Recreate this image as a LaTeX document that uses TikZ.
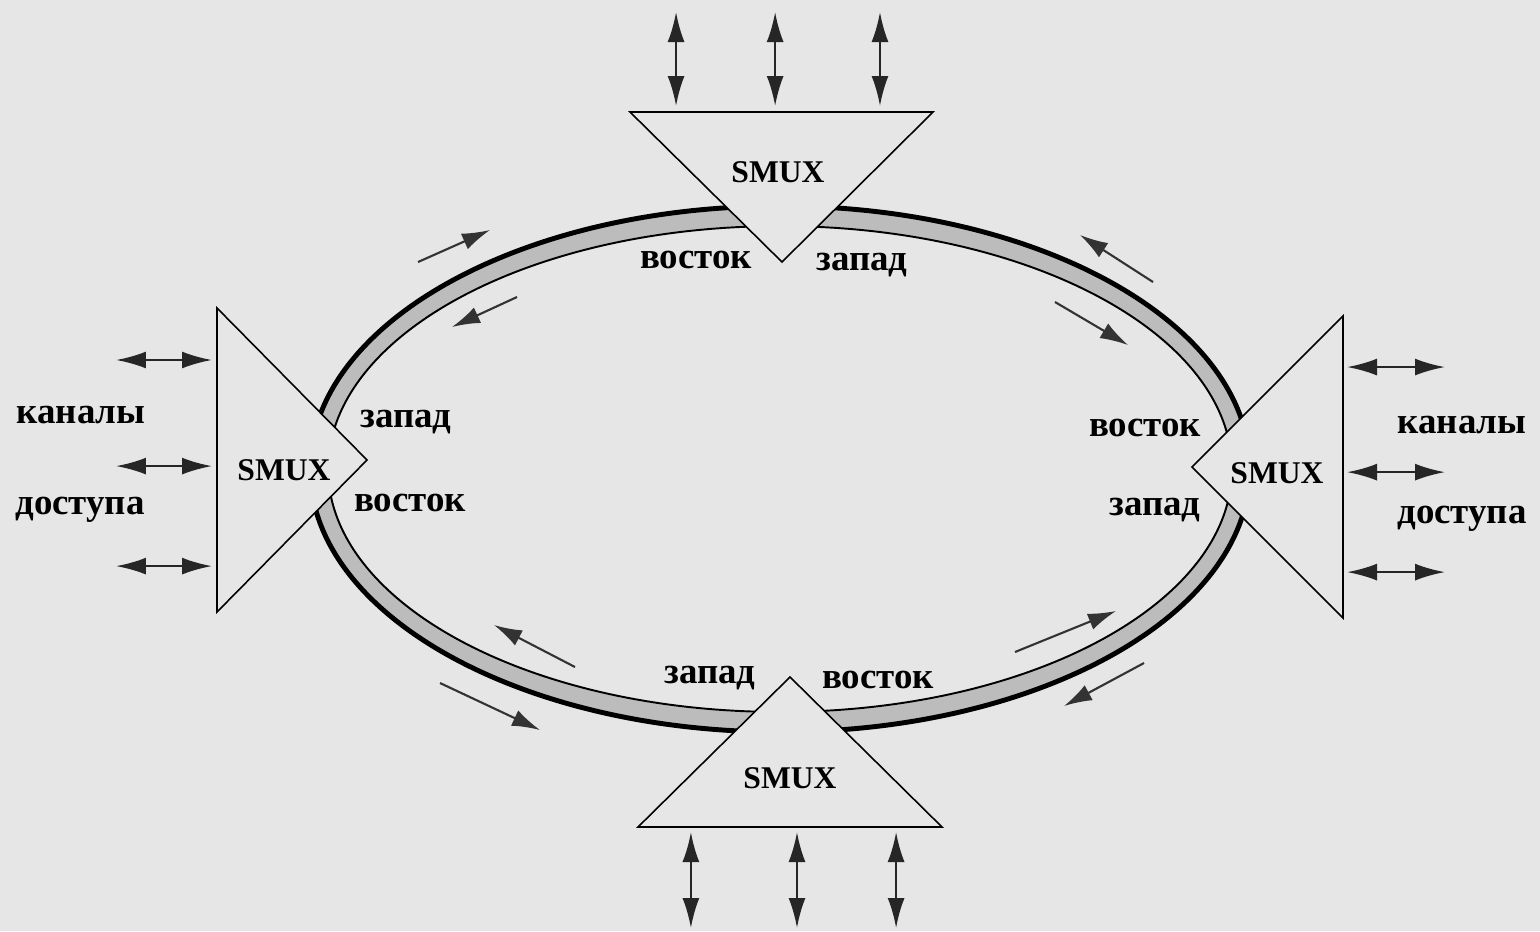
\documentclass[tikz,border=0pt]{standalone}
\usepackage{fontspec}
\setmainfont{Liberation Serif}
\usetikzlibrary{arrows.meta,calc}
\definecolor{paper}{RGB}{230,230,230}
\definecolor{band}{RGB}{188,188,188}
\begin{document}
\begin{tikzpicture}[x=0.02cm,y=-0.02cm,
    chan/.style={{Latex[length=0.6cm,width=0.34cm]}-{Latex[length=0.6cm,width=0.34cm]},line width=1.4pt,black!85},
    flow/.style={-{Latex[length=0.56cm,width=0.34cm]},line width=1.2pt,black!80},
    mux/.style={draw,line width=0.9pt,fill=paper},
    muxtext/.style={font=\fontsize{18}{20}\selectfont\bfseries},
    port/.style={font=\fontsize{21}{24}\selectfont\bfseries}]
    \fill[paper] (0,0) rectangle (1540,931);
    \useasboundingbox (0,0) rectangle (1540,931);
    % ring
    \coordinate (C) at (780,469);
    \draw[band,line width=0.36cm] (C) ellipse [x radius=9.22cm, y radius=5.06cm];
    \draw[line width=2.8pt] (C) ellipse [x radius=9.4cm, y radius=5.26cm];
    \draw[line width=1.1pt] (C) ellipse [x radius=9.04cm, y radius=4.86cm];
    % multiplexers
    \coordinate (N1) at (630,112); \coordinate (N2) at (933,112); \coordinate (N3) at (782,262);
    \coordinate (W1) at (217,308); \coordinate (W2) at (217,612); \coordinate (W3) at (367,460);
    \coordinate (E1) at (1343,316); \coordinate (E2) at (1343,618); \coordinate (E3) at (1192,467);
    \coordinate (S1) at (638,827); \coordinate (S2) at (942,827); \coordinate (S3) at (790,677);
    \draw[mux] (N1) -- (N2) -- (N3) -- cycle;
    \draw[mux] (W1) -- (W2) -- (W3) -- cycle;
    \draw[mux] (E1) -- (E2) -- (E3) -- cycle;
    \draw[mux] (S1) -- (S2) -- (S3) -- cycle;
    \node[muxtext] (smuxN) at (778,172) {SMUX};
    \node[muxtext] (smuxW) at (284,470) {SMUX};
    \node[muxtext] (smuxE) at (1277,473) {SMUX};
    \node[muxtext] (smuxS) at (790,778) {SMUX};
    % access channels
    \foreach \f in {0.152,0.479,0.825}
        \draw[chan] ($(N1)!\f!(N2)+(0,-6)$) -- ++(0,-94);
    \foreach \f in {0.171,0.52,0.849}
        \draw[chan] ($(W1)!\f!(W2)+(-5,0)$) -- ++(-96,0);
    \foreach \f in {0.169,0.517,0.848}
        \draw[chan] ($(E1)!\f!(E2)+(4,0)$) -- ++(98,0);
    \foreach \f in {0.174,0.523,0.849}
        \draw[chan] ($(S1)!\f!(S2)+(0,5)$) -- ++(0,96);
    \node[port] (chW) at (81,415) {каналы};
    \node[port] (acW) at (80,510) {доступа};
    \node[port] (chE) at (1462,425) {каналы};
    \node[port] (acE) at (1462,519) {доступа};
    % ports
    \node[port] (eastN) at (696,260) {восток};
    \node[port] (westN) at (862,265) {запад};
    \node[port] (westW) at (406,422) {запад};
    \node[port] (eastW) at (410,503) {восток};
    \node[port] (eastE) at (1145,428) {восток};
    \node[port] (westE) at (1155,510) {запад};
    \node[port] (westS) at (710,678) {запад};
    \node[port] (eastS) at (878,680) {восток};
    % traffic directions
    \foreach \xa/\ya/\xb/\yb in {418/262/490/230, 517/297/452/327, 1153/282/1080/235, 1055/302/1128/345,
                       575/667/494/625, 440/683/540/730, 1015/652/1116/611, 1144/663/1064/706}
        \draw[flow] (\xa,\ya) -- (\xb,\yb);
\end{tikzpicture}
\end{document}
